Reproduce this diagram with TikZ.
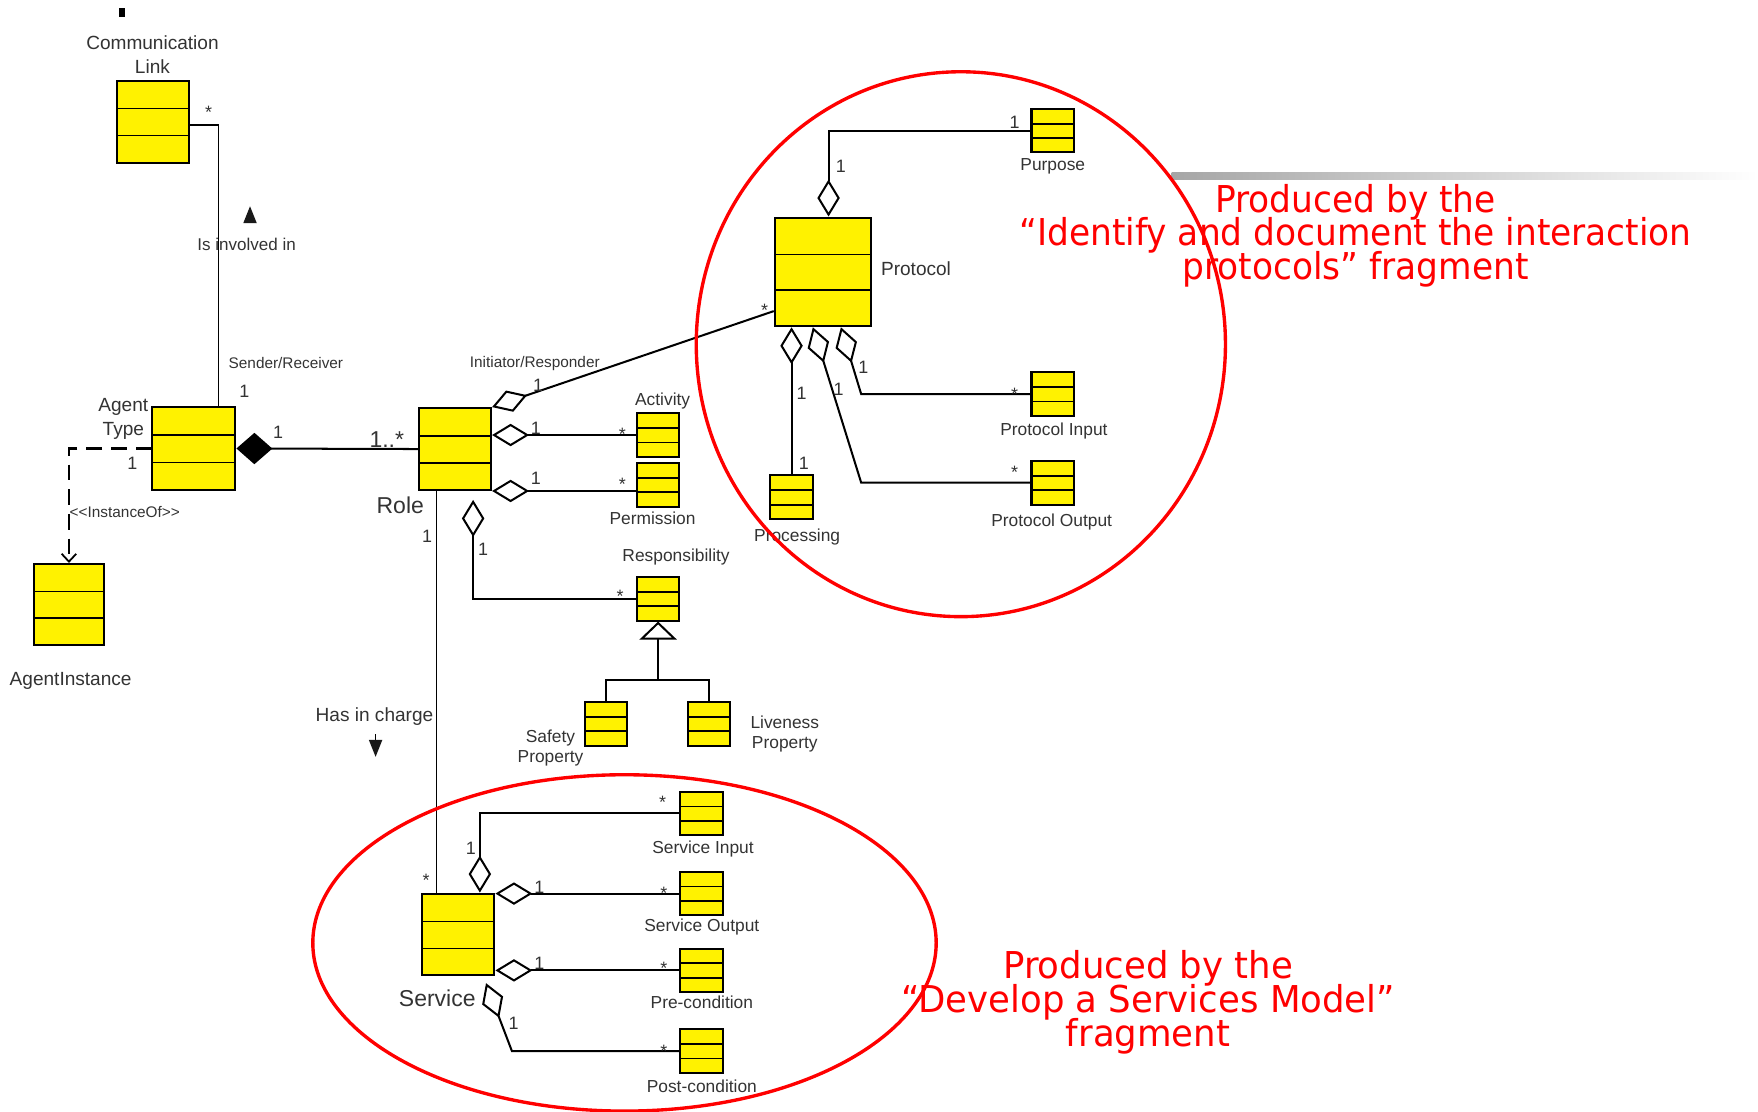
\documentclass[tikz,border=0pt]{standalone}
\usepackage{fontspec}
\setmainfont{Liberation Sans}
\newfontfamily\notefont{DejaVu Sans}[FakeStretch=0.93]
\newfontfamily\notefontb{DejaVu Sans}[FakeStretch=0.96]
\usetikzlibrary{arrows.meta,calc}

\tikzset{
  umlbox/.style={draw, line width=1.8pt, fill=yellow, inner sep=0pt,
    path picture={
      \foreach \f in {0.34,0.67}
        \draw[line width=1.6pt]
          ($(path picture bounding box.north west)!\f!(path picture bounding box.south west)$) --
          ($(path picture bounding box.north east)!\f!(path picture bounding box.south east)$);
    }},
  smallbox/.style={umlbox, minimum width=38pt, minimum height=39pt},
  conn/.style={line width=1.8pt},
  thinconn/.style={line width=1.1pt},
  lbl/.style={text=black!80, inner sep=0pt, font=\fontsize{15.5}{18}\selectfont},
  biglbl/.style={lbl, font=\fontsize{17}{21}\selectfont},
  rolelbl/.style={lbl, font=\fontsize{13.7}{16}\selectfont},
  namelbl/.style={lbl, font=\fontsize{20.5}{24}\selectfont},
  mult/.style={lbl, font=\fontsize{16}{18}\selectfont},
  redtxt/.style={text=red, inner sep=0pt, align=center, font=\notefont\fontsize{33}{30}\selectfont},
  odia/.tip={Diamond[open, length=33pt, width=20pt]},
  fdia/.tip={Diamond[length=32pt, width=28pt]},
  gen/.tip={Triangle[open, length=16pt, width=33pt]}
}

\begin{document}
\begin{tikzpicture}[x=1pt, y=-1pt]
    \useasboundingbox (0,0) rectangle (1568,991);
    \shade[left color=black!35, right color=white] (1045,154) rectangle (1568,160);
    \fill (106.5,7) rectangle (111.5,15);

    % classes
    \node[umlbox, minimum width=65pt, minimum height=73pt] (commlink) at (136.5,108.5) {};
    \node[umlbox, minimum width=74pt, minimum height=74pt] (agenttype) at (173,400) {};
    \node[umlbox, minimum width=63pt, minimum height=72pt] (agentinst) at (61.5,539) {};
    \node[umlbox, minimum width=64pt, minimum height=73pt] (role) at (406,400.5) {};
    \node[smallbox] (activity) at (587,388) {};
    \node[smallbox] (permission) at (587,432.5) {};
    \node[smallbox] (responsibility) at (587,534) {};
    \node[smallbox] (safety) at (540.5,645.5) {};
    \node[smallbox] (liveness) at (632.5,645.5) {};
    \node[umlbox, minimum width=86pt, minimum height=97pt] (protocol) at (734,242.5) {};
    \node[smallbox] (purpose) at (939,116.5) {};
    \node[smallbox] (protoinput) at (939,351.5) {};
    \node[smallbox] (protooutput) at (939,430.5) {};
    \node[smallbox] (processing) at (706,443.5) {};
    \node[umlbox, minimum width=65pt, minimum height=73pt] (service) at (408.5,833.5) {};
    \node[smallbox] (servinput) at (625.5,725.5) {};
    \node[smallbox] (servoutput) at (625.5,797) {};
    \node[smallbox] (precond) at (625.5,865.5) {};
    \node[smallbox] (postcond) at (625.5,937.5) {};

    % associations
    \draw[thinconn] ([yshift=-3pt]commlink.east) -| ([xshift=22pt]agenttype.north);
    \draw[line width=2.5pt, dash pattern=on 14pt off 8pt, -{Straight Barb[length=7pt, width=13pt, line width=1.6pt]}]
      (agenttype.west) -| (agentinst.north);
    \draw[conn, fdia-] (agenttype.east) -- (role.west);
    \draw[conn, odia-] (role.north east) -- ([yshift=-35pt]protocol.west);
    \draw[conn, odia-] (role.east |- activity.west) -- (activity.west);
    \draw[conn, odia-] (role.south east) -- (role.south east -| permission.west);
    \draw[conn, odia-] ([xshift=16pt, yshift=-8pt]role.south) |- (responsibility.west);
    \draw[thinconn] ([xshift=-17pt]role.south) -- ([xshift=-17pt]role.south |- service.north);
    \draw[conn, gen-] (responsibility.south) -- ++(0,52) coordinate (branch);
    \draw[conn] (safety.north) |- (branch) -| (liveness.north);

    \draw[conn, odia-] ([xshift=5pt]protocol.north) |- (purpose.west);
    \draw[conn, odia-] (processing.north |- protocol.south) -- (processing.north);
    \draw[conn, odia-] ([xshift=-9pt]protocol.south) -- ([xshift=-151pt]protooutput.west) -- (protooutput.west);
    \draw[conn, odia-] ([xshift=16pt]protocol.south) -- ([xshift=-151pt]protoinput.west) -- (protoinput.west);

    \draw[conn, odia-] ([xshift=19.5pt]service.north) |- (servinput.west);
    \draw[conn, odia-] (service.east |- servoutput.west) -- (servoutput.west);
    \draw[conn, odia-] (service.east |- precond.west) -- (precond.west);
    \draw[conn, odia-] ([xshift=25pt, yshift=-6pt]service.south) -- ([xshift=-149pt]postcond.west) -- (postcond.west);

    % direction marks
    \fill[black!90] (217,199) -- (229,199) -- (223,184) -- cycle;
    \draw[line width=1.2pt] (335,655) -- (335,661);
    \fill[black!90] (329,660) -- (341,660) -- (335,675) -- cycle;

    % labels
    \node[biglbl, align=center] (commlinklbl) at (136,48.5) {Communication\\Link};
    \node[biglbl, align=center] (agenttypelbl) at (110,373.5) {Agent\\Type};
    \node[biglbl] (agentinstlbl) at (63,607) {AgentInstance};
    \node[lbl, font=\fontsize{15.2}{18}\selectfont] (involvedlbl) at (220,218) {Is involved in};
    \node[rolelbl] (senderlbl) at (255,324) {Sender/Receiver};
    \node[rolelbl, anchor=west] (instoflbl) at (62,457) {{<}{<}InstanceOf{>}{>}};
    \node[rolelbl] (initiatorlbl) at (477,324) {Initiator/Responder};
    \node[namelbl] (rolelbl) at (357,451) {Role};
    \node[lbl] (activitylbl) at (591,358) {Activity};
    \node[lbl] (permissionlbl) at (582,462) {Permission};
    \node[lbl] (responsibilitylbl) at (603,497) {Responsibility};
    \node[lbl, align=center] (safetylbl) at (491,667) {Safety\\Property};
    \node[lbl, align=center] (livenesslbl) at (700,654.5) {Liveness\\Property};
    \node[biglbl] (chargelbl) at (334,639) {Has in charge};
    \node[biglbl] (protocollbl) at (817,240) {Protocol};
    \node[lbl] (purposelbl) at (939,148) {Purpose};
    \node[lbl] (protoinputlbl) at (940,384) {Protocol Input};
    \node[lbl] (protooutputlbl) at (938,466) {Protocol Output};
    \node[lbl] (processinglbl) at (711,479) {Processing};
    \node[namelbl] (servicelbl) at (390,890) {Service};
    \node[lbl] (servinputlbl) at (627,757) {Service Input};
    \node[lbl] (servoutputlbl) at (626,827) {Service Output};
    \node[lbl] (precondlbl) at (626,894) {Pre-condition};
    \node[lbl] (postcondlbl) at (626,969) {Post-condition};

    % multiplicities
    \node[namelbl] (manyroles) at (345,392) {1..*};
    \foreach \mx/\my/\mt [count=\i] in {186/100/*, 218/349/1, 248/386/1, 118/413/1,
        480/344/1, 682/277/*, 478/382/1, 555/387/*, 478/427/1, 555/432/*,
        381/478/1, 431/490/1, 553/532/*, 905/109/1, 750/148/1,
        770/328/1, 748/347/1, 715/351/1, 717/413/1, 905/352/*, 905/421/*,
        380/785/*, 420/757/1, 591/716/*, 481/791/1, 592/797/*,
        481/859/1, 592/864/*, 458/913/1, 592/938/*} {
      \node[mult] (mult\i) at (\mx,\my) {\mt};
    }

    % fragments
    \draw[red, line width=3pt] (857,307) ellipse [x radius=236pt, y radius=243pt];
    \draw[red, line width=3pt] (557,841) ellipse [x radius=278pt, y radius=150pt];
    \node[redtxt] (protonote) at (1209,210) {Produced by the\\[-3pt]“Identify and document the interaction\\[-3pt]protocols” fragment};
    \node[redtxt, font=\notefontb\fontsize{33}{30}\selectfont] (servnote) at (1024,894) {Produced by the\\[-3pt]“Develop a Services Model”\\[-3pt]fragment};
\end{tikzpicture}
\end{document}
